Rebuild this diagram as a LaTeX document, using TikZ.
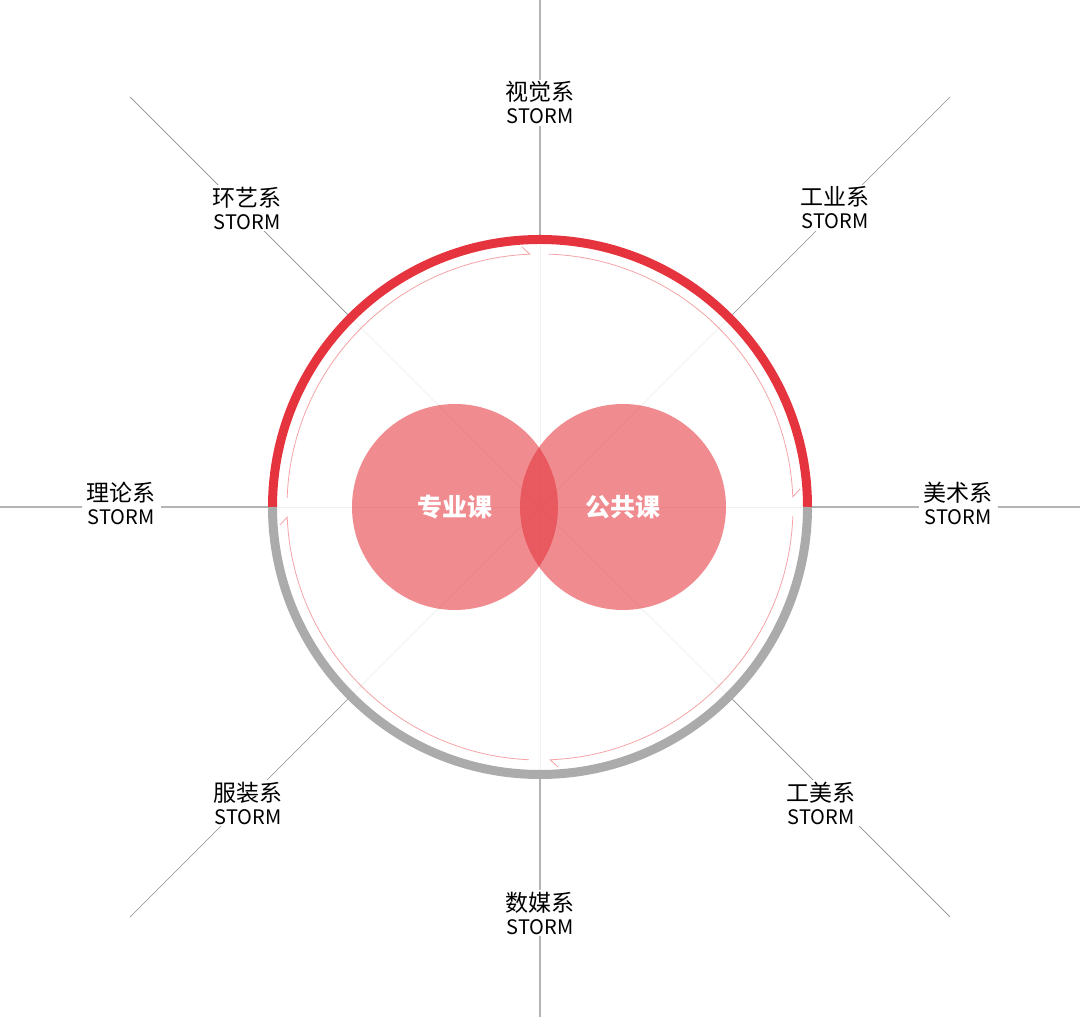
\documentclass[tikz,border=0pt]{standalone}
\usepackage{fontspec}
\setmainfont{Noto Sans CJK SC}
\usetikzlibrary{calc}
\definecolor{ringred}{HTML}{E5343D}
\definecolor{ringgrey}{HTML}{ABABAB}
\definecolor{innerpink}{HTML}{F5A3A7}
\definecolor{venn}{HTML}{E4343C}
\definecolor{outline}{HTML}{8C8C8C}
\definecolor{axisline}{HTML}{B4B4B4}
\newcommand{\deptlabel}[1]{{\fontsize{23}{23}\selectfont #1}\\STORM}
\tikzset{
  lbl/.style={fill=white, inner xsep=5pt, inner ysep=2pt, align=center, text=black, font=\fontsize{20}{23}\selectfont},
  faint/.style={draw=gray!12, line width=0.8pt},
  axis/.style={draw=axisline, line width=1.1pt},
  diag/.style={draw=outline, line width=0.7pt},
  venncircle/.style={circle, fill=venn, fill opacity=0.57, minimum size=206pt, inner sep=0pt},
  venntext/.style={text=white, font=\fontsize{25}{27}\selectfont\bfseries},
}
\begin{document}
\begin{tikzpicture}[x=1pt,y=1pt]
\useasboundingbox (0,0) rectangle (1080,1017);
\coordinate (C) at (540,510);
% border coordinates
\coordinate (bT) at (540,1017);
\coordinate (bB) at (540,0);
\coordinate (bL) at (0,510);
\coordinate (bR) at (1080,510);
\coordinate (bTL) at (130,920);
\coordinate (bTR) at (950,920);
\coordinate (bBR) at (950,100);
\coordinate (bBL) at (130,100);
% ring coordinates
\foreach \n/\a in {T/90,B/270,L/180,R/0,TL/135,TR/45,BR/315,BL/225}{
  \coordinate (r\n) at ($(C)+(\a:267)$);
}
% faint inner lines
\draw[faint] (rT) -- (rB);
\draw[faint] (rL) -- (rR);
\draw[faint] (rTL) -- (rBR);
\draw[faint] (rTR) -- (rBL);
% outer lines
\draw[axis] (bT) -- (rT);
\draw[axis] (bB) -- (rB);
\draw[axis] (bL) -- (rL);
\draw[axis] (bR) -- (rR);
\draw[diag] (bTL) -- (rTL);
\draw[diag] (bTR) -- (rTR);
\draw[diag] (bBR) -- (rBR);
\draw[diag] (bBL) -- (rBL);
% labels
\node[lbl] (lT) at (540,914) {\deptlabel{视觉系}};
\node[lbl] (lTR) at (835,809) {\deptlabel{工业系}};
\node[lbl] (lR) at (958,514) {\deptlabel{美术系}};
\node[lbl] (lBR) at (821,214) {\deptlabel{工美系}};
\node[lbl] (lB) at (540,104) {\deptlabel{数媒系}};
\node[lbl] (lBL) at (248,214) {\deptlabel{服装系}};
\node[lbl] (lL) at (121,514) {\deptlabel{理论系}};
\node[lbl] (lTL) at (247,809) {\deptlabel{环艺系}};
% outer ring
\draw[ringred, line width=9pt] ($(C)+(180:267.5)$) arc[start angle=180, end angle=0, radius=267.5];
\draw[ringgrey, line width=9pt] ($(C)+(180:267.5)$) arc[start angle=180, end angle=360, radius=267.5];
% inner arcs with half arrow barbs (clockwise)
\draw[innerpink, line width=0.8pt, line join=miter] ($(C)+(178:253)$) arc[start angle=178, end angle=92.3, radius=253] -- ++(137.3:11);
\draw[innerpink, line width=0.8pt, line join=miter] ($(C)+(88:253)$) arc[start angle=88, end angle=2.3, radius=253] -- ++(47.3:11);
\draw[innerpink, line width=0.8pt, line join=miter] ($(C)+(-2:253)$) arc[start angle=-2, end angle=-87.7, radius=253] -- ++(-42.7:11);
\draw[innerpink, line width=0.8pt, line join=miter] ($(C)+(-92.5:253)$) arc[start angle=-92.5, end angle=-177.7, radius=253] -- ++(-132.7:11);
% venn circles
\node[venncircle] (cL) at (455,510) {};
\node[venncircle] (cR) at (623,510) {};
\node[venntext] (tL) at (455,510) {专业课};
\node[venntext] (tR) at (623,510) {公共课};
\end{tikzpicture}
\end{document}
